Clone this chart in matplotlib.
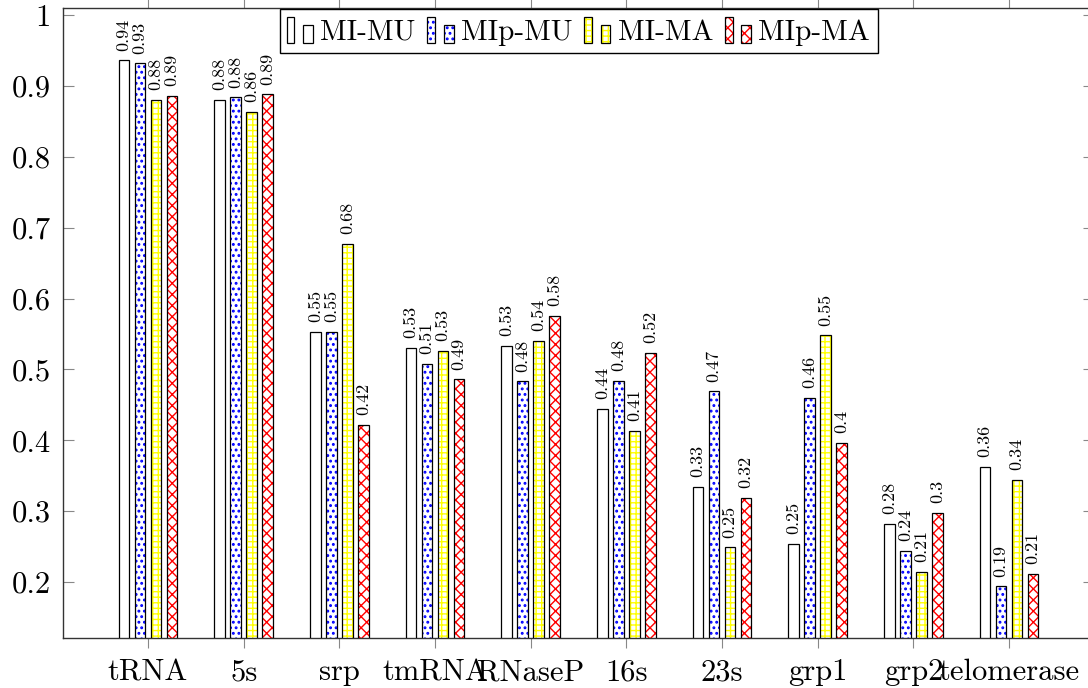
import matplotlib
matplotlib.use("Agg")
import matplotlib.pyplot as plt
import numpy as np
from matplotlib.patches import Rectangle
from matplotlib.legend_handler import HandlerBase

categories = ['tRNA', '5s', 'srp', 'tmRNA', 'RNaseP', '16s', '23s', 'grp1', 'grp2', 'telomerase']
series_names = ['MI-MU', 'MIp-MU', 'MI-MA', 'MIp-MA']
mi_mu = [0.936, 0.880, 0.553, 0.530, 0.533, 0.444, 0.334, 0.254, 0.282, 0.363]
mip_mu = [0.932, 0.884, 0.553, 0.508, 0.483, 0.484, 0.469, 0.460, 0.244, 0.194]
mi_ma = [0.880, 0.863, 0.677, 0.526, 0.540, 0.413, 0.249, 0.548, 0.214, 0.344]
mip_ma = [0.886, 0.888, 0.422, 0.486, 0.576, 0.523, 0.319, 0.396, 0.298, 0.211]
yticks = [0.2, 0.3, 0.4, 0.5, 0.6, 0.7, 0.8, 0.9, 1.0]

series = [mi_mu, mip_mu, mi_ma, mip_ma]
hatch_colors = ['white', '#0000ff', '#ffff00', '#ff0000']
hatches = [None, '...', '+++', 'xxx']
hatch_lws = [1.0, 1.3, 1.0, 1.0]

plt.rcParams['font.family'] = ['cmr10', 'DejaVu Serif']
plt.rcParams['axes.formatter.use_mathtext'] = True
plt.rcParams['hatch.linewidth'] = 1.0

fig = plt.figure(figsize=(10.88, 6.88), dpi=100)
ax = fig.add_axes([63/1088, 50/688, (1094-63)/1088, 630/688])

x = np.arange(len(categories))
width = 0.112
step = 0.167
offsets = [-1.5, -0.5, 0.5, 1.5]


def hatched_rect(xy, w, h, hc, hp, hlw, trans=None):
    with plt.rc_context({'hatch.linewidth': hlw}):
        kw = dict(facecolor='white', edgecolor=hc, hatch=hp, linewidth=0)
        if trans is not None:
            kw['transform'] = trans
        r = Rectangle(xy, w, h, **kw)
    if hasattr(r, 'set_hatch_linewidth'):
        r.set_hatch_linewidth(hlw)
    return r


for vals, hc, h, hlw, off in zip(series, hatch_colors, hatches, hatch_lws, offsets):
    pos = x + off * step
    if h is not None:
        with plt.rc_context({'hatch.linewidth': hlw}):
            bars = ax.bar(pos, vals, width, color='white', edgecolor=hc, hatch=h, linewidth=0, zorder=2)
        for b in bars:
            if hasattr(b, 'set_hatch_linewidth'):
                b.set_hatch_linewidth(hlw)
    ax.bar(pos, vals, width, fill=False, edgecolor='black', linewidth=0.9, zorder=3)
    for px, v in zip(pos, vals):
        ax.annotate(f"{round(v, 2):g}", (px, v), xytext=(0, 7), textcoords='offset points',
                    rotation=90, ha='center', va='bottom', fontsize=13, zorder=4)

ax.set_xlim(-0.888, 9.888)
ax.set_ylim(0.121, 1.01)
ax.set_xticks(x)
ax.set_xticklabels(categories, fontsize=22)
ax.set_yticks(yticks)
ax.set_yticklabels([f"{t:g}" for t in yticks], fontsize=22)
ax.tick_params(axis='x', direction='out', length=7, width=0.8, color='#888888', top=True, pad=8)
ax.tick_params(axis='y', direction='in', length=8, width=0.8, color='#888888', right=True, pad=9)
for s in ax.spines.values():
    s.set_color('#333333')
    s.set_linewidth(1.0)


class TwoBarHandler(HandlerBase):
    def __init__(self, hc, h, hlw):
        super().__init__()
        self.hc = hc
        self.h = h
        self.hlw = hlw

    def create_artists(self, legend, orig_handle, xdescent, ydescent, width, height, fontsize, trans):
        arts = []
        specs = [(0.0, 0.29, 1.0), (0.63, 0.37, 0.68)]
        for fx, fw, fh in specs:
            x0 = -xdescent + fx * width
            y0 = -ydescent
            w = fw * width
            hh = fh * height
            if self.h is not None:
                arts.append(hatched_rect((x0, y0), w, hh, self.hc, self.h, self.hlw, trans))
            r2 = Rectangle((x0, y0), w, hh, fill=False, edgecolor='black', linewidth=0.9,
                           transform=trans)
            arts.append(r2)
        return arts


handles = [Rectangle((0, 0), 1, 1) for _ in series_names]
hmap = {hd: TwoBarHandler(hc, h, hlw) for hd, hc, h, hlw in zip(handles, hatch_colors, hatches, hatch_lws)}
leg = ax.legend(handles, series_names, handler_map=hmap, loc='upper center', ncol=4,
                fontsize=21, frameon=True, fancybox=False, edgecolor='black',
                handlelength=0.9, handleheight=1.0, handletextpad=0.25, columnspacing=0.4,
                borderpad=0.25, borderaxespad=0.05, framealpha=1)
leg.get_frame().set_linewidth(1.0)

fig.savefig('out.png', dpi=100)
